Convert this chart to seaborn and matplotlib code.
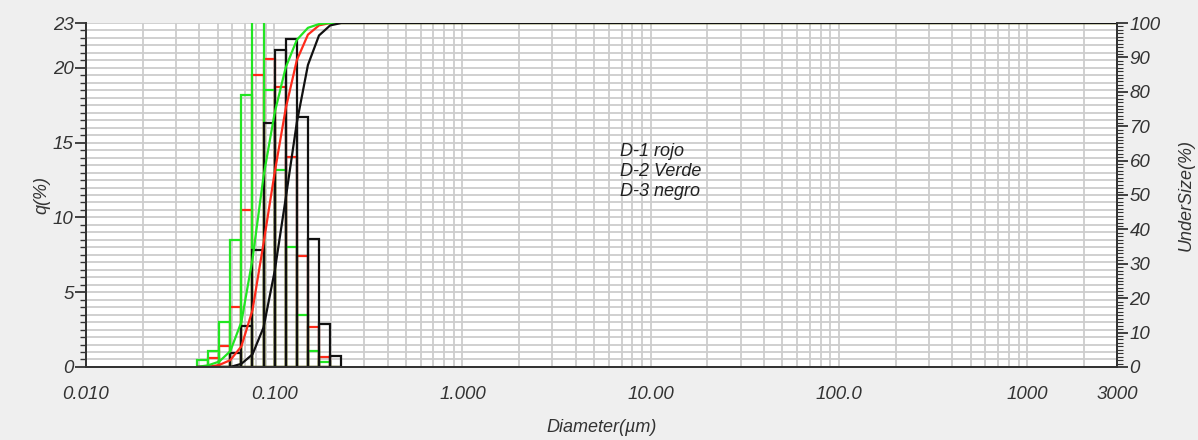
import numpy as np
import pandas as pd
import matplotlib
matplotlib.use("Agg")
import matplotlib.pyplot as plt
import seaborn as sns
from matplotlib.ticker import FixedLocator, FixedFormatter, MultipleLocator, NullFormatter

# ---------------- data ----------------
bin_edges_um = [0.0388, 0.0445, 0.0510, 0.0584, 0.0669, 0.0766, 0.0877,
                0.1005, 0.1151, 0.1318, 0.1510, 0.1729, 0.1981, 0.2269]
q_d1_rojo = [0.0, 0.58, 1.4, 4.03, 10.5, 19.5, 20.6, 18.7, 14.05, 7.44, 2.7, 0.69, 0.0]
q_d2_verde = [0.47, 1.09, 3.03, 8.5, 18.2, 24.1, 18.5, 13.2, 8.0, 3.5, 1.09, 0.31, 0.0]
q_d3_negro = [0.0, 0.0, 0.0, 0.91, 2.74, 7.8, 16.3, 21.2, 21.9, 16.7, 8.55, 2.9, 0.7]
diameter_min_um = 0.01
diameter_max_um = 3000
x_tick_values = [0.01, 0.1, 1, 10, 100, 1000, 3000]
x_tick_labels = ["0.010", "0.100", "1.000", "10.00", "100.0", "1000", "3000"]
q_ticks = [0, 5, 10, 15, 20, 23]
undersize_ticks = [0, 10, 20, 30, 40, 50, 60, 70, 80, 90, 100]
legend_text = "D-1 rojo\nD-2 Verde\nD-3 negro"

series = [("D-1 rojo", q_d1_rojo, "#ff2a1a"),
          ("D-2 Verde", q_d2_verde, "#22e622"),
          ("D-3 negro", q_d3_negro, "#111111")]

# ---------------- style ----------------
sns.set_theme(style="white")
plt.rcParams["font.family"] = ["Liberation Sans", "DejaVu Sans"]
plt.rcParams["font.style"] = "italic"

fig = plt.figure(figsize=(11.98, 4.40), dpi=100, facecolor="#efefef")
ax = fig.add_axes([0.0718, 0.166, 0.8606, 0.7817])
ax.set_facecolor("white")

edges = np.array(bin_edges_um)
centers = np.sqrt(edges[:-1] * edges[1:])
log_bins = [float(v) for v in np.log10(edges)]

for name, vals, col in series:
    df = pd.DataFrame({"d": centers, "q": vals})
    sns.histplot(data=df, x="d", weights="q", bins=log_bins, log_scale=True,
                 element="bars", fill=False, color=col, linewidth=1.6, ax=ax)

# cumulative curves on the right axis
ax2 = ax.twinx()
for name, vals, col in series:
    cum = np.concatenate([[0.0], np.cumsum(vals)])
    cum = np.minimum(cum / cum[-1] * 100.0, 100.0)
    xs = np.concatenate([edges, [diameter_max_um]])
    ys = np.concatenate([cum, [100.0]])
    sns.lineplot(x=xs, y=ys, color=col, linewidth=1.6, ax=ax2, sort=False)
sns.lineplot(x=[diameter_min_um, edges[0]], y=[0, 0], color="#555555", linewidth=1.0,
             linestyle=":", ax=ax2)

ax.set_xscale("log")
ax2.set_xscale("log")
ax.set_xlim(diameter_min_um, diameter_max_um)
ax.set_ylim(0, 23)
ax2.set_ylim(0, 100)

# x ticks (set after twin axes so they are not reset)
ax.xaxis.set_major_locator(FixedLocator(x_tick_values))
ax.xaxis.set_major_formatter(FixedFormatter(x_tick_labels))
minor_x = [m * 10.0 ** e for e in range(-2, 4) for m in range(2, 10) if m * 10.0 ** e < diameter_max_um]
ax.xaxis.set_minor_locator(FixedLocator(minor_x))
ax.xaxis.set_minor_formatter(NullFormatter())

ax.yaxis.set_major_locator(FixedLocator(q_ticks))
ax.yaxis.set_minor_locator(MultipleLocator(0.5))

ax.grid(True, which="both", axis="x", color="#cdcdcd", linewidth=1.3)
ax.grid(True, which="both", axis="y", color="#cdcdcd", linewidth=1.3)
ax.set_axisbelow(True)

ax.tick_params(axis="both", which="major", direction="out", length=8, width=1.3,
               color="#333333", labelcolor="#333333", labelsize=13.5)
ax.tick_params(axis="both", which="minor", direction="out", length=4, width=1.0,
               color="#333333")
ax.tick_params(axis="y", which="major", pad=1)
ax.tick_params(axis="x", which="major", pad=6)

for a in (ax, ax2):
    for s in ["left", "bottom", "right"]:
        a.spines[s].set_color("#333333")
        a.spines[s].set_linewidth(1.3)
    a.spines["top"].set_visible(False)

ax.set_xlabel("Diameter(µm)", fontsize=13, color="#333333", labelpad=11)
ax.set_ylabel("q(%)", fontsize=13, color="#333333", labelpad=2)

ax.text(6.9, 15.0, legend_text, fontsize=13, color="#222222", va="top", ha="left",
        linespacing=1.25)

ax2.yaxis.set_major_locator(FixedLocator(undersize_ticks))
ax2.yaxis.set_minor_locator(MultipleLocator(1))
ax2.tick_params(axis="y", which="major", direction="out", length=8, width=1.3,
                color="#333333", labelcolor="#333333", labelsize=13.5, pad=1)
ax2.tick_params(axis="y", which="minor", direction="out", length=4, width=0.8,
                color="#333333")
ax2.grid(False)
ax2.set_ylabel("UnderSize(%)", fontsize=13, color="#333333", labelpad=12)

fig.savefig("out.png", dpi=100, facecolor=fig.get_facecolor())
